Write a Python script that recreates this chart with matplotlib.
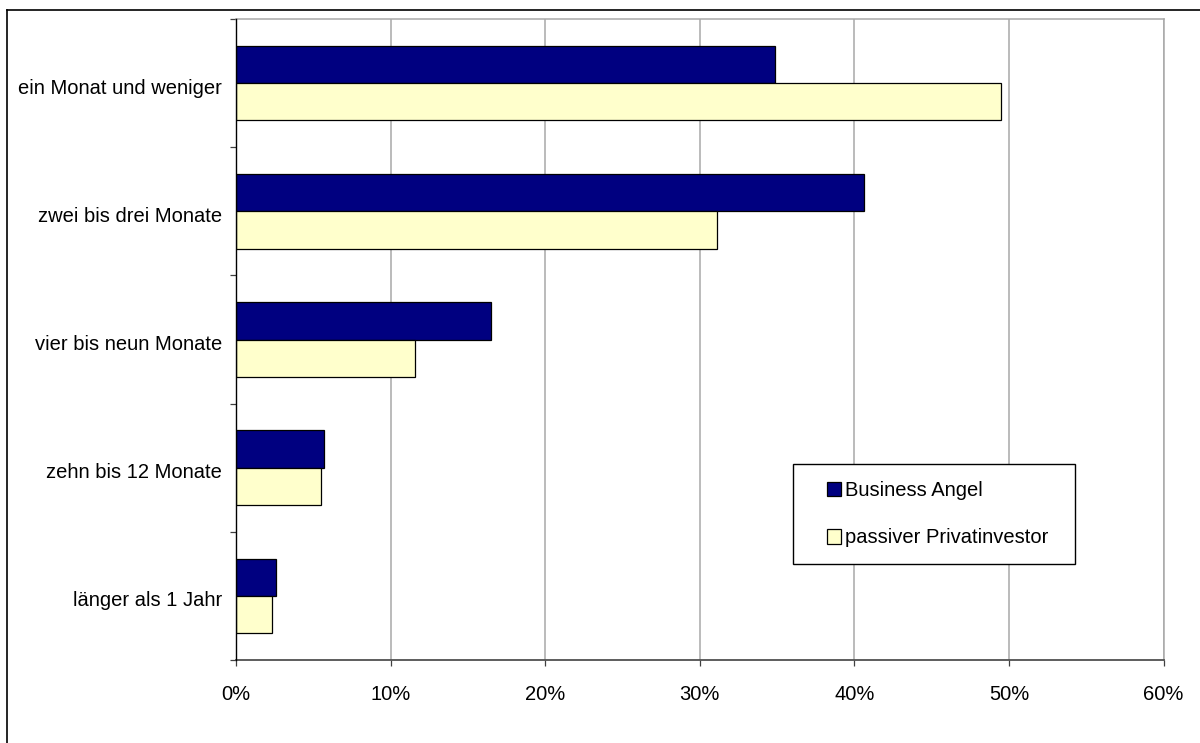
import matplotlib
matplotlib.use("Agg")
import matplotlib.pyplot as plt
from matplotlib.lines import Line2D
from matplotlib.patches import Rectangle
from matplotlib.container import BarContainer
from matplotlib.legend_handler import HandlerPatch
from matplotlib.ticker import FixedLocator, FuncFormatter
from matplotlib.transforms import ScaledTranslation

# Duration categories (top to bottom) and shares per investor type, in percent
categories = [
    "ein Monat und weniger",
    "zwei bis drei Monate",
    "vier bis neun Monate",
    "zehn bis 12 Monate",
    "länger als 1 Jahr",
]
business_angel = [34.9, 40.6, 16.5, 5.7, 2.6]
passive_investor = [49.5, 31.1, 11.6, 5.5, 2.35]
series_names = ["Business Angel", "passiver Privatinvestor"]
x_ticks = [0, 10, 20, 30, 40, 50, 60]

NAVY = "#000080"
CREAM = "#FFFFCC"
GRID = "#a8a8a8"

plt.rcParams["font.family"] = ["Liberation Sans", "DejaVu Sans"]
plt.rcParams["font.size"] = 14.5

fig = plt.figure(figsize=(12, 7.43), dpi=100)
ax = fig.add_axes([236 / 1200, 83 / 743, 927.5 / 1200, 641 / 743])

pos = list(range(len(categories)))
h = 0.291
bars_ba = ax.barh([p - h / 2 for p in pos], business_angel, height=h, color=NAVY,
                  edgecolor="black", linewidth=0.9, label=series_names[0], zorder=3)
bars_pi = ax.barh([p + h / 2 for p in pos], passive_investor, height=h, color=CREAM,
                  edgecolor="black", linewidth=0.9, label=series_names[1], zorder=3)

ax.set_xlim(x_ticks[0], x_ticks[-1])
ax.set_ylim(len(categories) - 0.5, -0.5)

# x axis: percent ticks with vertical gridlines
ax.xaxis.set_major_locator(FixedLocator(x_ticks))
ax.xaxis.set_major_formatter(FuncFormatter(lambda v, _: f"{v:.0f}%"))
ax.tick_params(axis="x", which="major", direction="out", length=4.3,
               width=0.9, color="#404040", pad=13.5, labelsize=14.5)
ax.grid(axis="x", color=GRID, linewidth=1.1, zorder=0)

# y axis: tick marks between categories, labels centred on each category
ax.yaxis.set_major_locator(FixedLocator([p - 0.5 for p in range(len(categories) + 1)]))
ax.yaxis.set_major_formatter(FuncFormatter(lambda v, _: ""))
ax.yaxis.set_minor_locator(FixedLocator(pos))
ax.yaxis.set_minor_formatter(FuncFormatter(lambda v, _: categories[int(round(v))]))
ax.tick_params(axis="y", which="major", direction="out", length=4.3,
               width=0.9, color="#404040")
ax.tick_params(axis="y", which="minor", length=0, pad=10, labelsize=14.5)
shift = ScaledTranslation(0, -3 / 100, fig.dpi_scale_trans)
for lbl in ax.get_yticklabels(minor=True):
    lbl.set_transform(lbl.get_transform() + shift)

for side in ("top", "right"):
    ax.spines[side].set_color(GRID)
    ax.spines[side].set_linewidth(1.1)
ax.spines["left"].set_color("black")
ax.spines["left"].set_linewidth(1.0)
ax.spines["bottom"].set_color("#505050")
ax.spines["bottom"].set_linewidth(1.3)
ax.spines["left"].set_zorder(4)


def square_handle(legend, orig_handle, xdescent, ydescent, width, height, fontsize):
    s = 10.5
    return Rectangle((width - s - xdescent, (height - s) / 2 - ydescent), s, s)


class SquareBarHandler(HandlerPatch):
    def create_artists(self, legend, orig_handle, xdescent, ydescent,
                       width, height, fontsize, trans):
        patch = orig_handle.patches[0]
        p = square_handle(legend, patch, xdescent, ydescent, width, height, fontsize)
        p.set_facecolor(patch.get_facecolor())
        p.set_edgecolor("black")
        p.set_linewidth(0.9)
        p.set_transform(trans)
        return [p]


leg = ax.legend(
    handles=[bars_ba, bars_pi],
    loc="upper left",
    bbox_to_anchor=((793 - 236) / 927.5, (660 - 563) / 641, 282 / 927.5, 99 / 641),
    mode="expand",
    borderaxespad=0,
    frameon=True,
    fancybox=False,
    framealpha=1,
    edgecolor="black",
    borderpad=0.85,
    labelspacing=1.4,
    handlelength=1.55,
    handletextpad=0.2,
    fontsize=14.5,
    handler_map={BarContainer: SquareBarHandler()},
)
leg.get_frame().set_linewidth(1.0)
leg.set_zorder(5)

# Outer chart frame
fig.add_artist(Line2D([7 / 1200, 1.0], [1 - 10 / 743, 1 - 10 / 743],
                      color="black", linewidth=1.2, transform=fig.transFigure))
fig.add_artist(Line2D([7 / 1200, 7 / 1200], [0.0, 1 - 10 / 743],
                      color="black", linewidth=1.2, transform=fig.transFigure))

fig.savefig("out.png", dpi=100, facecolor="white")
